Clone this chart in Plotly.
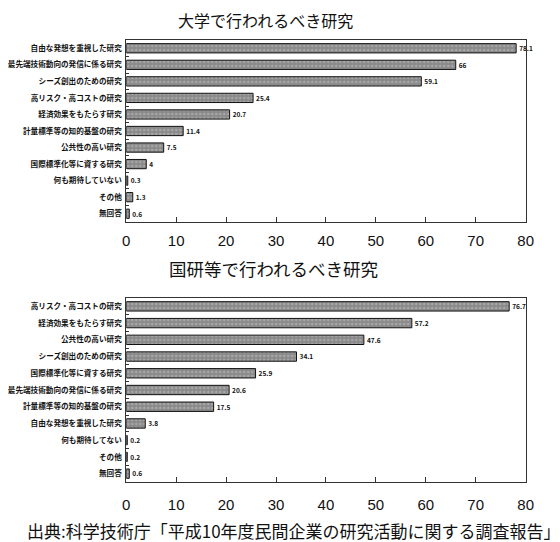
import plotly.graph_objects as go

# 大学で行われるべき研究
univ_labels = ["自由な発想を重視した研究", "最先端技術動向の発信に係る研究", "シーズ創出のための研究",
               "高リスク・高コストの研究", "経済効果をもたらす研究", "計量標準等の知的基盤の研究",
               "公共性の高い研究", "国際標準化等に資する研究", "何も期待していない", "その他", "無回答"]
univ_values = [78.1, 66, 59.1, 25.4, 20.7, 11.4, 7.5, 4, 0.3, 1.3, 0.6]

# 国研等で行われるべき研究
natl_labels = ["高リスク・高コストの研究", "経済効果をもたらす研究", "公共性の高い研究",
               "シーズ創出のための研究", "国際標準化等に資する研究", "最先端技術動向の発信に係る研究",
               "計量標準等の知的基盤の研究", "自由な発想を重視した研究", "何も期待してない", "その他", "無回答"]
natl_values = [76.7, 57.2, 47.6, 34.1, 25.9, 20.6, 17.5, 3.8, 0.2, 0.2, 0.6]

x_ticks = [0, 10, 20, 30, 40, 50, 60, 70, 80]

title_top = "大学で行われるべき研究"
title_bottom = "国研等で行われるべき研究"
source = "出典:科学技術庁「平成10年度民間企業の研究活動に関する調査報告」"

jp = "Noto Sans CJK JP"
# page body has an 8px margin, so the figure is drawn 8px smaller and everything is placed in its coords
W, H = 552, 534

fig = go.Figure()


def add_bars(labels, values, xa, ya):
    fig.add_trace(go.Bar(
        x=values, y=labels, orientation="h",
        xaxis=xa, yaxis=ya,
        width=0.56,
        marker=dict(color="#8a8a8a", line=dict(color="#111111", width=1),
                    pattern=dict(shape=".", fgcolor="#c4c4c4", size=4, solidity=0.3)),
        text=[f"{v:g}" for v in values],
        textposition="outside",
        textfont=dict(family=jp, size=7, color="#111111", weight="bold"),
        cliponaxis=False,
        showlegend=False,
    ))


add_bars(univ_labels, univ_values, "x", "y")
add_bars(natl_labels, natl_values, "x2", "y2")

xcommon = dict(range=[0, 80], tickvals=x_ticks, ticks="inside", ticklen=5,
               tickcolor="#333333", showline=True, linecolor="#333333", linewidth=1,
               mirror=True, showgrid=False, zeroline=False,
               tickfont=dict(family="Liberation Sans Narrow, Liberation Sans", size=15, color="#111111"))
ycommon = dict(autorange="reversed", ticks="inside", ticklen=3, tickson="boundaries",
               tickcolor="#333333", showline=True, linecolor="#333333", linewidth=1,
               mirror=True, showgrid=False, ticklabelstandoff=2,
               tickfont=dict(family=jp, size=7.6, color="#111111", weight="bold"))


def px_x(x):
    return (x - 8) / W


def px_y(y):
    return 1 - (y - 8) / H


fig.update_layout(
    width=W, height=H,
    margin=dict(l=0, r=0, t=0, b=0),
    paper_bgcolor="white", plot_bgcolor="white",
    xaxis=dict(domain=[px_x(124), px_x(533)], anchor="y", ticklabelstandoff=5, **xcommon),
    yaxis=dict(domain=[px_y(222), px_y(40)], anchor="x", **ycommon),
    xaxis2=dict(domain=[px_x(124), px_x(533)], anchor="y2", ticklabelstandoff=9, **xcommon),
    yaxis2=dict(domain=[px_y(482), px_y(298)], anchor="x2", **ycommon),
    annotations=[
        dict(text=title_top, x=px_x(267), y=px_y(20), xref="paper", yref="paper",
             xanchor="center", yanchor="middle", showarrow=False,
             font=dict(family=jp, size=16, color="#111111")),
        dict(text=title_bottom, x=px_x(275), y=px_y(268), xref="paper", yref="paper",
             xanchor="center", yanchor="middle", showarrow=False,
             font=dict(family=jp, size=17.5, color="#111111")),
        dict(text=source, x=px_x(296), y=px_y(530), xref="paper", yref="paper",
             xanchor="center", yanchor="middle", showarrow=False,
             font=dict(family=jp, size=17, color="#111111")),
    ],
)

fig.write_html("out.html")
